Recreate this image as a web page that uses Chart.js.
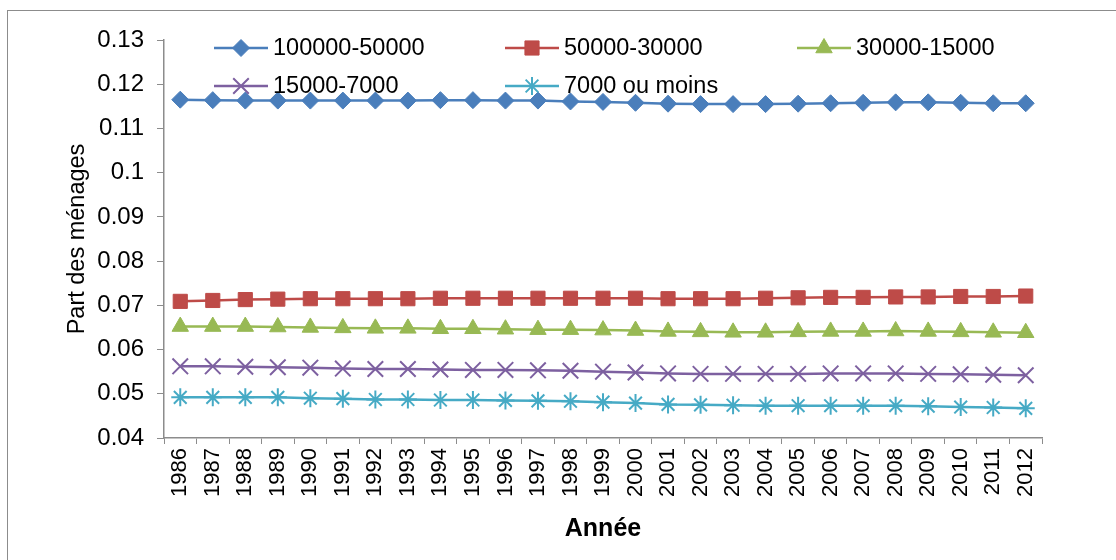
<!DOCTYPE html>
<html>
<head>
<meta charset="utf-8">
<script src="https://cdn.jsdelivr.net/npm/chart.js@4/dist/chart.umd.min.js"></script>
<style>
  html, body { margin: 0; padding: 0; background: #fff; overflow: hidden; }
  #frame { position: absolute; left: 7px; top: 10px; width: 1300px; height: 700px; border: 1px solid #8c8c8c; }
  #chart { position: absolute; left: 0; top: 0; }
</style>
</head>
<body>
<div id="frame"></div>
<canvas id="chart" width="1116" height="560"></canvas>
<script>
const years = ['1986','1987','1988','1989','1990','1991','1992','1993','1994','1995','1996','1997','1998','1999',
  '2000','2001','2002','2003','2004','2005','2006','2007','2008','2009','2010','2011','2012'];

const s100000_50000 = [0.1165,0.1164,0.1163,0.1163,0.1163,0.1163,0.1163,0.1163,0.1164,0.1164,0.1163,0.1163,0.1161,0.1160,
  0.1158,0.1156,0.1155,0.1155,0.1155,0.1156,0.1157,0.1158,0.1159,0.1159,0.1158,0.1157,0.1157];
const s50000_30000 = [0.0709,0.0711,0.0713,0.0714,0.0715,0.0715,0.0715,0.0715,0.0716,0.0716,0.0716,0.0716,0.0716,0.0716,
  0.0716,0.0715,0.0715,0.0715,0.0716,0.0717,0.0718,0.0718,0.0719,0.0719,0.0720,0.0720,0.0721];
const s30000_15000 = [0.0652,0.0652,0.0652,0.0651,0.0650,0.0649,0.0648,0.0648,0.0647,0.0647,0.0646,0.0645,0.0645,0.0644,
  0.0643,0.0641,0.0640,0.0639,0.0639,0.0640,0.0641,0.0641,0.0642,0.0641,0.0640,0.0639,0.0638];
const s15000_7000 = [0.0562,0.0562,0.0561,0.0560,0.0559,0.0557,0.0556,0.0556,0.0555,0.0554,0.0554,0.0553,0.0552,0.0550,
  0.0548,0.0546,0.0545,0.0545,0.0545,0.0545,0.0546,0.0546,0.0546,0.0545,0.0544,0.0543,0.0542];
const s7000 = [0.0492,0.0492,0.0492,0.0492,0.0490,0.0489,0.0487,0.0487,0.0486,0.0486,0.0485,0.0484,0.0483,0.0481,
  0.0479,0.0476,0.0475,0.0474,0.0473,0.0473,0.0473,0.0473,0.0473,0.0472,0.0470,0.0469,0.0467];

const seriesNames = ['100000-50000','50000-30000','30000-15000','15000-7000','7000 ou moins'];
const yTicks = [0.04,0.05,0.06,0.07,0.08,0.09,0.1,0.11,0.12,0.13];

const FONT = 'Arial, "Liberation Sans", sans-serif';

function ds(label, data, color, style, radius, bw) {
  return {
    label: label, data: data,
    borderColor: color, backgroundColor: color,
    pointBackgroundColor: color, pointBorderColor: color,
    pointStyle: style, pointRadius: radius, pointBorderWidth: bw,
    borderWidth: 2.5, tension: 0, fill: false
  };
}

const datasets = [
  ds(seriesNames[0], s100000_50000, '#4a7ebb', 'rectRot', 8.5, 1),
  ds(seriesNames[1], s50000_30000, '#be4b48', 'rect', 10, 1),
  ds(seriesNames[2], s30000_15000, '#98b954', 'triangle', 9.5, 1),
  ds(seriesNames[3], s15000_7000, '#7d60a0', 'crossRot', 11, 2),
  ds(seriesNames[4], s7000, '#46aac5', 'star', 9, 2)
];

// legend drawn inside the plot, like the original
const legendPos = [[214, 48], [505, 48], [797, 48], [214, 86], [505, 86]];
const insideLegend = {
  id: 'insideLegend',
  afterDraw(chart) {
    const ctx = chart.ctx;
    ctx.save();
    chart.data.datasets.forEach((d, i) => {
      const [x, y] = legendPos[i];
      ctx.strokeStyle = d.borderColor;
      ctx.fillStyle = d.borderColor;
      ctx.lineWidth = 2.5;
      ctx.beginPath();
      ctx.moveTo(x, y);
      ctx.lineTo(x + 54, y);
      ctx.stroke();
      ctx.lineWidth = d.pointBorderWidth;
      Chart.helpers.drawPoint(ctx, { pointStyle: d.pointStyle, radius: d.pointRadius, borderWidth: d.pointBorderWidth, rotation: 0 }, x + 27, y);
      ctx.fillStyle = '#000';
      ctx.font = '23.5px ' + FONT;
      ctx.textBaseline = 'middle';
      ctx.textAlign = 'left';
      ctx.fillText(d.label, x + 59, y + 1);
    });
    ctx.restore();
  }
};

new Chart(document.getElementById('chart').getContext('2d'), {
  type: 'line',
  data: { labels: years, datasets: datasets },
  options: {
    responsive: false,
    animation: false,
    devicePixelRatio: 1,
    layout: { padding: { top: 40, right: 74, bottom: 0, left: 0 } },
    plugins: { legend: { display: false }, tooltip: { enabled: false } },
    scales: {
      x: {
        offset: true,
        grid: { display: true, offset: true, drawOnChartArea: false, drawTicks: true, tickLength: 6, color: '#8c8c8c', lineWidth: 1 },
        border: { color: '#8c8c8c', width: 1.5 },
        ticks: { color: '#000', font: { family: FONT, size: 22 }, minRotation: 90, maxRotation: 90, padding: 4, autoSkip: false },
        title: { display: true, text: 'Année', color: '#000', font: { family: FONT, size: 25, weight: 'bold' }, padding: { top: 0, bottom: 16 } },
        afterFit(s) { s.height = 122; }
      },
      y: {
        min: 0.04, max: 0.13,
        afterBuildTicks(s) { s.ticks = yTicks.map(v => ({ value: v })); },
        grid: { display: true, drawOnChartArea: false, drawTicks: true, tickLength: 7, color: '#8c8c8c', lineWidth: 1 },
        border: { color: '#8c8c8c', width: 1.5 },
        ticks: { color: '#000', font: { family: FONT, size: 24 }, padding: 13,
          callback: v => String(Number(v.toFixed(2))) },
        title: { display: true, text: 'Part des ménages', color: '#000', font: { family: FONT, size: 23.5 }, padding: { top: 63, bottom: 0 } },
        afterFit(s) { s.width = 164; }
      }
    }
  },
  plugins: [insideLegend]
});
</script>
</body>
</html>
